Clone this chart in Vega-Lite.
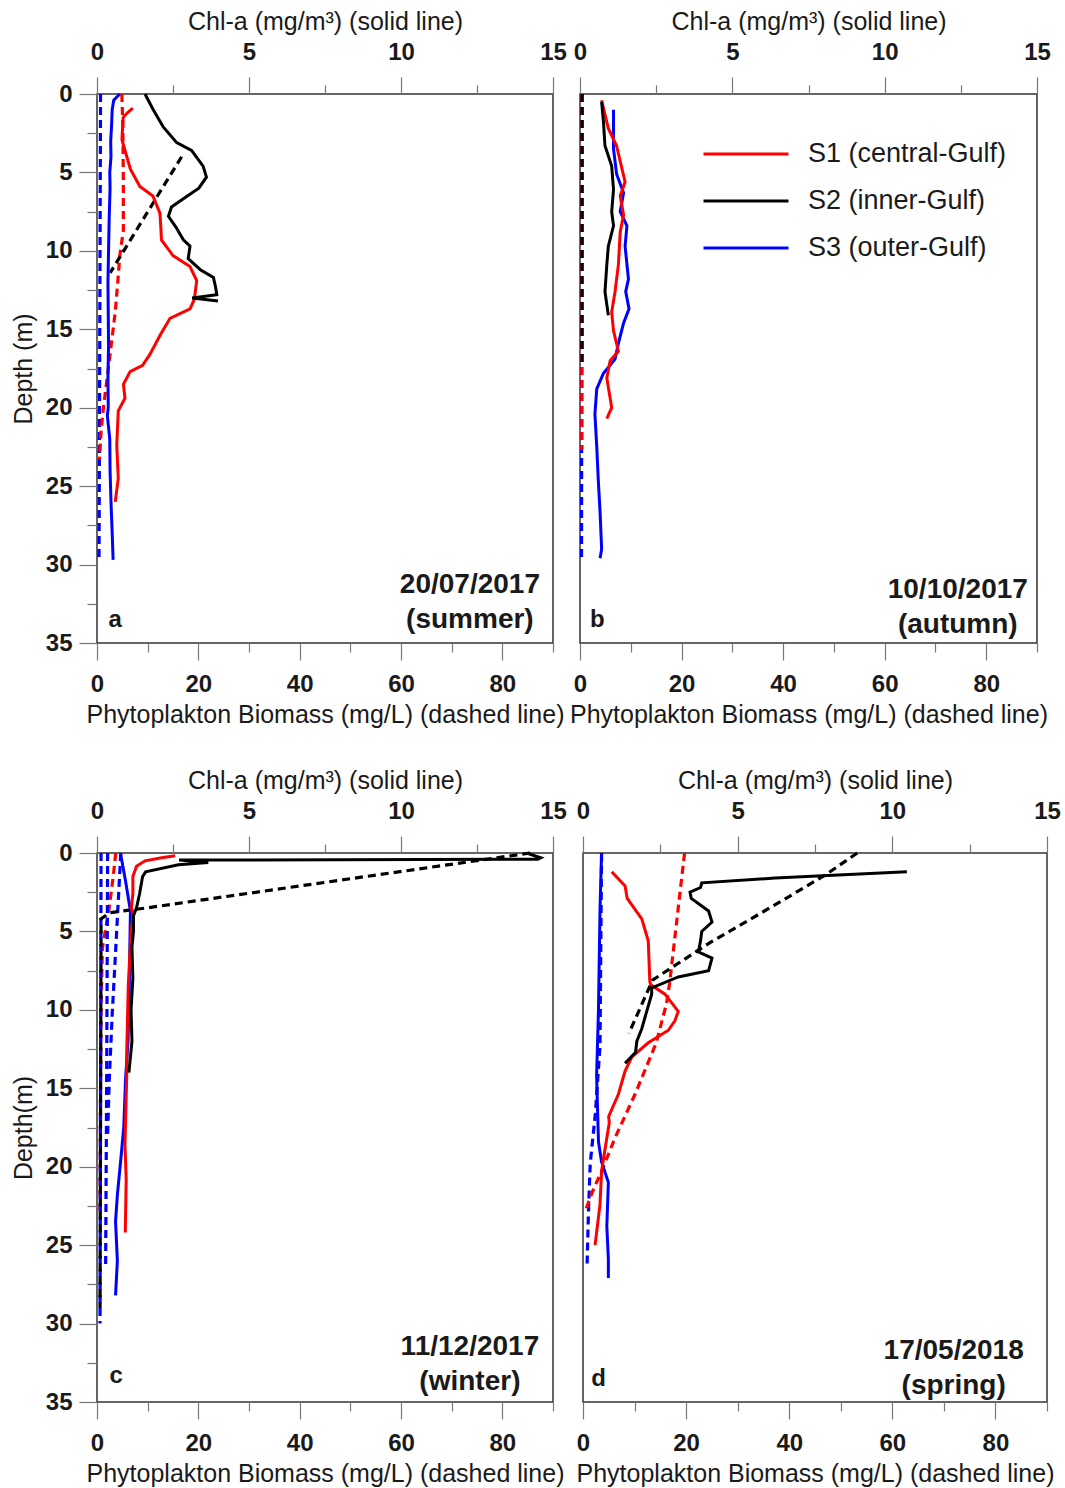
{
  "$schema": "https://vega.github.io/schema/vega-lite/v6.json",
  "background": "white",
  "autosize": {"type": "pad"},
  "padding": {"left": 10, "top": 8, "right": 0, "bottom": 0},
  "config": {
    "font": "Liberation Sans",
    "view": {"stroke": "#333", "strokeWidth": 1.5},
    "axis": {"domain": false, "grid": false, "labelFont": "Liberation Sans", "titleFont": "Liberation Sans", "labelFontSize": 24, "labelFontWeight": "bold", "labelColor": "#1a1a1a", "titleFontSize": 25, "titleFontWeight": "normal", "titleColor": "#1a1a1a", "tickColor": "#777", "tickWidth": 1.2}
  },
  "datasets": {
    "prof": [
      {"p":"a","v":"b","s":"S3","d":0,"x":0.7},{"p":"a","v":"b","s":"S3","d":10,"x":0.6},{"p":"a","v":"b","s":"S3","d":20,"x":0.5},{"p":"a","v":"b","s":"S3","d":29.7,"x":0.4},
      {"p":"a","v":"b","s":"S1","d":0,"x":4.9},{"p":"a","v":"b","s":"S1","d":2,"x":5.1},{"p":"a","v":"b","s":"S1","d":5.5,"x":5.2},{"p":"a","v":"b","s":"S1","d":8.7,"x":5.2},{"p":"a","v":"b","s":"S1","d":10.3,"x":4.5},{"p":"a","v":"b","s":"S1","d":12,"x":4.1},{"p":"a","v":"b","s":"S1","d":13.9,"x":3.6},{"p":"a","v":"b","s":"S1","d":16,"x":2.8},{"p":"a","v":"b","s":"S1","d":17.6,"x":2.2},{"p":"a","v":"b","s":"S1","d":19.9,"x":1.3},{"p":"a","v":"b","s":"S1","d":21.5,"x":0.8},{"p":"a","v":"b","s":"S1","d":23.3,"x":0.5},
      {"p":"a","v":"b","s":"S2","d":4.0,"x":16.7},{"p":"a","v":"b","s":"S2","d":11.4,"x":2.6},
      {"p":"a","v":"c","s":"S3","d":0,"x":0.75},{"p":"a","v":"c","s":"S3","d":0.4,"x":0.55},{"p":"a","v":"c","s":"S3","d":1,"x":0.5},{"p":"a","v":"c","s":"S3","d":2,"x":0.48},{"p":"a","v":"c","s":"S3","d":3,"x":0.45},{"p":"a","v":"c","s":"S3","d":4,"x":0.46},{"p":"a","v":"c","s":"S3","d":5,"x":0.42},{"p":"a","v":"c","s":"S3","d":6,"x":0.43},{"p":"a","v":"c","s":"S3","d":8,"x":0.4},{"p":"a","v":"c","s":"S3","d":10,"x":0.38},{"p":"a","v":"c","s":"S3","d":12,"x":0.36},{"p":"a","v":"c","s":"S3","d":14,"x":0.37},{"p":"a","v":"c","s":"S3","d":16,"x":0.38},{"p":"a","v":"c","s":"S3","d":18,"x":0.36},{"p":"a","v":"c","s":"S3","d":20,"x":0.37},{"p":"a","v":"c","s":"S3","d":20.5,"x":0.34},{"p":"a","v":"c","s":"S3","d":22,"x":0.42},{"p":"a","v":"c","s":"S3","d":24,"x":0.43},{"p":"a","v":"c","s":"S3","d":26,"x":0.46},{"p":"a","v":"c","s":"S3","d":28,"x":0.5},{"p":"a","v":"c","s":"S3","d":29.7,"x":0.53},
      {"p":"a","v":"c","s":"S1","d":0.9,"x":1.18},{"p":"a","v":"c","s":"S1","d":1.2,"x":1.0},{"p":"a","v":"c","s":"S1","d":1.5,"x":0.86},{"p":"a","v":"c","s":"S1","d":2.9,"x":0.82},{"p":"a","v":"c","s":"S1","d":4.0,"x":0.98},{"p":"a","v":"c","s":"S1","d":4.8,"x":1.1},{"p":"a","v":"c","s":"S1","d":5.9,"x":1.41},{"p":"a","v":"c","s":"S1","d":6.5,"x":1.84},{"p":"a","v":"c","s":"S1","d":7.6,"x":2.07},{"p":"a","v":"c","s":"S1","d":8.5,"x":2.1},{"p":"a","v":"c","s":"S1","d":9.3,"x":2.12},{"p":"a","v":"c","s":"S1","d":10.3,"x":2.5},{"p":"a","v":"c","s":"S1","d":11.0,"x":3.06},{"p":"a","v":"c","s":"S1","d":11.9,"x":3.28},{"p":"a","v":"c","s":"S1","d":13.1,"x":3.2},{"p":"a","v":"c","s":"S1","d":13.7,"x":3.06},{"p":"a","v":"c","s":"S1","d":14.3,"x":2.4},{"p":"a","v":"c","s":"S1","d":15.4,"x":2.07},{"p":"a","v":"c","s":"S1","d":16.6,"x":1.74},{"p":"a","v":"c","s":"S1","d":17.3,"x":1.5},{"p":"a","v":"c","s":"S1","d":17.7,"x":1.09},{"p":"a","v":"c","s":"S1","d":18.5,"x":0.87},{"p":"a","v":"c","s":"S1","d":19.4,"x":0.92},{"p":"a","v":"c","s":"S1","d":20.2,"x":0.7},{"p":"a","v":"c","s":"S1","d":22.4,"x":0.65},{"p":"a","v":"c","s":"S1","d":24.5,"x":0.7},{"p":"a","v":"c","s":"S1","d":26,"x":0.6},
      {"p":"a","v":"c","s":"S2","d":0,"x":1.58},{"p":"a","v":"c","s":"S2","d":1,"x":1.85},{"p":"a","v":"c","s":"S2","d":2.1,"x":2.18},{"p":"a","v":"c","s":"S2","d":3.1,"x":2.62},{"p":"a","v":"c","s":"S2","d":3.6,"x":3.11},{"p":"a","v":"c","s":"S2","d":4.6,"x":3.49},{"p":"a","v":"c","s":"S2","d":5.3,"x":3.6},{"p":"a","v":"c","s":"S2","d":6.0,"x":3.35},{"p":"a","v":"c","s":"S2","d":6.6,"x":2.9},{"p":"a","v":"c","s":"S2","d":7.2,"x":2.45},{"p":"a","v":"c","s":"S2","d":7.8,"x":2.35},{"p":"a","v":"c","s":"S2","d":8.5,"x":2.6},{"p":"a","v":"c","s":"S2","d":9.3,"x":2.84},{"p":"a","v":"c","s":"S2","d":9.7,"x":3.06},{"p":"a","v":"c","s":"S2","d":10.5,"x":3.0},{"p":"a","v":"c","s":"S2","d":11.2,"x":3.4},{"p":"a","v":"c","s":"S2","d":11.7,"x":3.83},{"p":"a","v":"c","s":"S2","d":12.3,"x":3.9},{"p":"a","v":"c","s":"S2","d":12.8,"x":3.94},{"p":"a","v":"c","s":"S2","d":13.0,"x":3.13},{"p":"a","v":"c","s":"S2","d":13.2,"x":3.98},

      {"p":"b","v":"b","s":"S3","d":0,"x":0.4},{"p":"b","v":"b","s":"S3","d":15,"x":0.35},{"p":"b","v":"b","s":"S3","d":29.7,"x":0.3},
      {"p":"b","v":"b","s":"S1","d":0,"x":0.4},{"p":"b","v":"b","s":"S1","d":22.7,"x":0.35},
      {"p":"b","v":"b","s":"S2","d":0,"x":0.4},{"p":"b","v":"b","s":"S2","d":17.2,"x":0.4},
      {"p":"b","v":"c","s":"S3","d":1.0,"x":1.1},{"p":"b","v":"c","s":"S3","d":3.5,"x":1.1},{"p":"b","v":"c","s":"S3","d":5.1,"x":1.2},{"p":"b","v":"c","s":"S3","d":6.3,"x":1.43},{"p":"b","v":"c","s":"S3","d":7.5,"x":1.32},{"p":"b","v":"c","s":"S3","d":8.4,"x":1.54},{"p":"b","v":"c","s":"S3","d":9.7,"x":1.48},{"p":"b","v":"c","s":"S3","d":11.8,"x":1.59},{"p":"b","v":"c","s":"S3","d":12.6,"x":1.5},{"p":"b","v":"c","s":"S3","d":13.7,"x":1.61},{"p":"b","v":"c","s":"S3","d":14.6,"x":1.43},{"p":"b","v":"c","s":"S3","d":15.9,"x":1.26},{"p":"b","v":"c","s":"S3","d":16.9,"x":1.15},{"p":"b","v":"c","s":"S3","d":17.8,"x":0.77},{"p":"b","v":"c","s":"S3","d":18.8,"x":0.55},{"p":"b","v":"c","s":"S3","d":20.4,"x":0.49},{"p":"b","v":"c","s":"S3","d":22.5,"x":0.55},{"p":"b","v":"c","s":"S3","d":24.6,"x":0.6},{"p":"b","v":"c","s":"S3","d":26.7,"x":0.66},{"p":"b","v":"c","s":"S3","d":29,"x":0.71},{"p":"b","v":"c","s":"S3","d":29.6,"x":0.66},
      {"p":"b","v":"c","s":"S1","d":0.4,"x":0.71},{"p":"b","v":"c","s":"S1","d":2.2,"x":0.93},{"p":"b","v":"c","s":"S1","d":3.3,"x":1.2},{"p":"b","v":"c","s":"S1","d":5.6,"x":1.48},{"p":"b","v":"c","s":"S1","d":6.5,"x":1.32},{"p":"b","v":"c","s":"S1","d":7.7,"x":1.43},{"p":"b","v":"c","s":"S1","d":8.8,"x":1.32},{"p":"b","v":"c","s":"S1","d":10.9,"x":1.26},{"p":"b","v":"c","s":"S1","d":12.6,"x":1.15},{"p":"b","v":"c","s":"S1","d":13.9,"x":1.04},{"p":"b","v":"c","s":"S1","d":15.1,"x":1.1},{"p":"b","v":"c","s":"S1","d":16.4,"x":1.26},{"p":"b","v":"c","s":"S1","d":17.0,"x":0.99},{"p":"b","v":"c","s":"S1","d":18.1,"x":0.88},{"p":"b","v":"c","s":"S1","d":19.4,"x":0.99},{"p":"b","v":"c","s":"S1","d":20,"x":1.04},{"p":"b","v":"c","s":"S1","d":20.7,"x":0.88},
      {"p":"b","v":"c","s":"S2","d":0.5,"x":0.71},{"p":"b","v":"c","s":"S2","d":1.8,"x":0.77},{"p":"b","v":"c","s":"S2","d":3.3,"x":0.82},{"p":"b","v":"c","s":"S2","d":4.6,"x":1.04},{"p":"b","v":"c","s":"S2","d":6.1,"x":1.1},{"p":"b","v":"c","s":"S2","d":7.5,"x":1.04},{"p":"b","v":"c","s":"S2","d":8.4,"x":1.1},{"p":"b","v":"c","s":"S2","d":9.7,"x":0.93},{"p":"b","v":"c","s":"S2","d":10.9,"x":0.88},{"p":"b","v":"c","s":"S2","d":12.6,"x":0.82},{"p":"b","v":"c","s":"S2","d":14.1,"x":0.93},

      {"p":"c","v":"b","s":"S1","d":0,"x":3.7},{"p":"c","v":"b","s":"S1","d":1.5,"x":3.2},{"p":"c","v":"b","s":"S1","d":3.5,"x":2.4},{"p":"c","v":"b","s":"S1","d":6.1,"x":1.05},{"p":"c","v":"b","s":"S1","d":10,"x":0.8},{"p":"c","v":"b","s":"S1","d":15,"x":0.7},{"p":"c","v":"b","s":"S1","d":22.9,"x":0.6},
      {"p":"c","v":"b","s":"S3","c":"A","d":0,"x":0.8},{"p":"c","v":"b","s":"S3","c":"A","d":15,"x":0.7},{"p":"c","v":"b","s":"S3","c":"A","d":30,"x":0.6},
      {"p":"c","v":"b","s":"S3","c":"B","d":0,"x":4.7},{"p":"c","v":"b","s":"S3","c":"B","d":6.1,"x":3.7},{"p":"c","v":"b","s":"S3","c":"B","d":10.3,"x":3.0},{"p":"c","v":"b","s":"S3","c":"B","d":14.6,"x":2.4},{"p":"c","v":"b","s":"S3","c":"B","d":18,"x":2.1},
      {"p":"c","v":"b","s":"S3","c":"C","d":0,"x":2.1},{"p":"c","v":"b","s":"S3","c":"C","d":15,"x":1.9},{"p":"c","v":"b","s":"S3","c":"C","d":26.5,"x":1.7},
      {"p":"c","v":"b","s":"S2","d":0,"x":85.5},{"p":"c","v":"b","s":"S2","d":3.5,"x":9.8},{"p":"c","v":"b","s":"S2","d":3.8,"x":2.6},{"p":"c","v":"b","s":"S2","d":4.2,"x":0.8},{"p":"c","v":"b","s":"S2","d":29,"x":0.6},
      {"p":"c","v":"c","s":"S3","d":0.1,"x":0.78},{"p":"c","v":"c","s":"S3","d":1.8,"x":0.94},{"p":"c","v":"c","s":"S3","d":3.7,"x":1.1},{"p":"c","v":"c","s":"S3","d":6,"x":1.08},{"p":"c","v":"c","s":"S3","d":9,"x":1.06},{"p":"c","v":"c","s":"S3","d":12,"x":1.02},{"p":"c","v":"c","s":"S3","d":14.4,"x":0.94},{"p":"c","v":"c","s":"S3","d":17.5,"x":0.88},{"p":"c","v":"c","s":"S3","d":19.6,"x":0.78},{"p":"c","v":"c","s":"S3","d":21.8,"x":0.67},{"p":"c","v":"c","s":"S3","d":23.5,"x":0.61},{"p":"c","v":"c","s":"S3","d":26,"x":0.67},{"p":"c","v":"c","s":"S3","d":28.2,"x":0.61},
      {"p":"c","v":"c","s":"S1","d":0.17,"x":2.57},{"p":"c","v":"c","s":"S1","d":0.3,"x":2.13},{"p":"c","v":"c","s":"S1","d":0.5,"x":1.58},{"p":"c","v":"c","s":"S1","d":0.85,"x":1.3},{"p":"c","v":"c","s":"S1","d":1.5,"x":1.18},{"p":"c","v":"c","s":"S1","d":2.6,"x":1.18},{"p":"c","v":"c","s":"S1","d":3.5,"x":1.13},{"p":"c","v":"c","s":"S1","d":3.9,"x":1.2},{"p":"c","v":"c","s":"S1","d":5,"x":1.12},{"p":"c","v":"c","s":"S1","d":8.4,"x":1.03},{"p":"c","v":"c","s":"S1","d":12.5,"x":0.98},{"p":"c","v":"c","s":"S1","d":14,"x":0.98},{"p":"c","v":"c","s":"S1","d":18.6,"x":0.92},{"p":"c","v":"c","s":"S1","d":20.8,"x":0.96},{"p":"c","v":"c","s":"S1","d":24.2,"x":0.93},
      {"p":"c","v":"c","s":"S2","d":0.05,"x":14.2},{"p":"c","v":"c","s":"S2","d":0.3,"x":14.6},{"p":"c","v":"c","s":"S2","d":0.4,"x":14.5},{"p":"c","v":"c","s":"S2","d":0.45,"x":2.7},{"p":"c","v":"c","s":"S2","d":0.6,"x":3.66},{"p":"c","v":"c","s":"S2","d":0.75,"x":2.68},{"p":"c","v":"c","s":"S2","d":1.2,"x":1.6},{"p":"c","v":"c","s":"S2","d":1.5,"x":1.5},{"p":"c","v":"c","s":"S2","d":2.6,"x":1.4},{"p":"c","v":"c","s":"S2","d":3.5,"x":1.3},{"p":"c","v":"c","s":"S2","d":4.0,"x":1.2},{"p":"c","v":"c","s":"S2","d":5,"x":1.2},{"p":"c","v":"c","s":"S2","d":6,"x":1.15},{"p":"c","v":"c","s":"S2","d":8,"x":1.18},{"p":"c","v":"c","s":"S2","d":10,"x":1.12},{"p":"c","v":"c","s":"S2","d":12,"x":1.15},{"p":"c","v":"c","s":"S2","d":14,"x":1.05},

      {"p":"d","v":"b","s":"S3","d":0,"x":3.6},{"p":"d","v":"b","s":"S3","d":12.3,"x":3.3},{"p":"d","v":"b","s":"S3","d":16.6,"x":2.4},{"p":"d","v":"b","s":"S3","d":19.8,"x":1.4},{"p":"d","v":"b","s":"S3","d":23,"x":1.05},{"p":"d","v":"b","s":"S3","d":26.2,"x":0.8},
      {"p":"d","v":"b","s":"S1","d":0,"x":19.7},{"p":"d","v":"b","s":"S1","d":8.3,"x":16.8},{"p":"d","v":"b","s":"S1","d":9.6,"x":16.2},{"p":"d","v":"b","s":"S1","d":12.1,"x":14.2},{"p":"d","v":"b","s":"S1","d":15.3,"x":10.2},{"p":"d","v":"b","s":"S1","d":18.1,"x":6.3},{"p":"d","v":"b","s":"S1","d":20.2,"x":3.7},{"p":"d","v":"b","s":"S1","d":21.7,"x":1.7},{"p":"d","v":"b","s":"S1","d":22.7,"x":0.6},
      {"p":"d","v":"b","s":"S2","d":0,"x":53.2},{"p":"d","v":"b","s":"S2","d":1.4,"x":47},{"p":"d","v":"b","s":"S2","d":3.2,"x":37.8},{"p":"d","v":"b","s":"S2","d":5.7,"x":24.7},{"p":"d","v":"b","s":"S2","d":8.1,"x":13.5},{"p":"d","v":"b","s":"S2","d":11.5,"x":8.9},
      {"p":"d","v":"c","s":"S3","d":0,"x":0.6},{"p":"d","v":"c","s":"S3","d":3.6,"x":0.55},{"p":"d","v":"c","s":"S3","d":10,"x":0.5},{"p":"d","v":"c","s":"S3","d":14.2,"x":0.44},{"p":"d","v":"c","s":"S3","d":18.4,"x":0.5},{"p":"d","v":"c","s":"S3","d":19.7,"x":0.6},{"p":"d","v":"c","s":"S3","d":21,"x":0.82},{"p":"d","v":"c","s":"S3","d":23.8,"x":0.77},{"p":"d","v":"c","s":"S3","d":25.9,"x":0.82},{"p":"d","v":"c","s":"S3","d":27.1,"x":0.82},
      {"p":"d","v":"c","s":"S1","d":1.2,"x":0.93},{"p":"d","v":"c","s":"S1","d":2.1,"x":1.36},{"p":"d","v":"c","s":"S1","d":2.9,"x":1.43},{"p":"d","v":"c","s":"S1","d":4.2,"x":1.9},{"p":"d","v":"c","s":"S1","d":5.6,"x":2.11},{"p":"d","v":"c","s":"S1","d":8.2,"x":2.16},{"p":"d","v":"c","s":"S1","d":8.4,"x":2.19},{"p":"d","v":"c","s":"S1","d":9.0,"x":2.65},{"p":"d","v":"c","s":"S1","d":10.1,"x":3.08},{"p":"d","v":"c","s":"S1","d":10.7,"x":2.97},{"p":"d","v":"c","s":"S1","d":11.3,"x":2.76},{"p":"d","v":"c","s":"S1","d":12.1,"x":2.11},{"p":"d","v":"c","s":"S1","d":13,"x":1.58},{"p":"d","v":"c","s":"S1","d":13.9,"x":1.36},{"p":"d","v":"c","s":"S1","d":15.4,"x":1.14},{"p":"d","v":"c","s":"S1","d":16.8,"x":0.83},{"p":"d","v":"c","s":"S1","d":17.2,"x":0.85},{"p":"d","v":"c","s":"S1","d":18.9,"x":0.71},{"p":"d","v":"c","s":"S1","d":20.3,"x":0.6},{"p":"d","v":"c","s":"S1","d":22.4,"x":0.55},{"p":"d","v":"c","s":"S1","d":25,"x":0.39},
      {"p":"d","v":"c","s":"S2","d":1.2,"x":10.47},{"p":"d","v":"c","s":"S2","d":1.6,"x":6.21},{"p":"d","v":"c","s":"S2","d":1.9,"x":3.84},{"p":"d","v":"c","s":"S2","d":2.2,"x":3.8},{"p":"d","v":"c","s":"S2","d":2.5,"x":3.46},{"p":"d","v":"c","s":"S2","d":2.9,"x":3.5},{"p":"d","v":"c","s":"S2","d":3.7,"x":4.06},{"p":"d","v":"c","s":"S2","d":4.4,"x":4.17},{"p":"d","v":"c","s":"S2","d":5.0,"x":3.84},{"p":"d","v":"c","s":"S2","d":5.6,"x":3.8},{"p":"d","v":"c","s":"S2","d":6.3,"x":3.73},{"p":"d","v":"c","s":"S2","d":6.7,"x":4.17},{"p":"d","v":"c","s":"S2","d":7.5,"x":4.06},{"p":"d","v":"c","s":"S2","d":7.9,"x":3.08},{"p":"d","v":"c","s":"S2","d":8.6,"x":2.22},{"p":"d","v":"c","s":"S2","d":9.0,"x":2.22},{"p":"d","v":"c","s":"S2","d":10.1,"x":2.06},{"p":"d","v":"c","s":"S2","d":11.2,"x":1.9},{"p":"d","v":"c","s":"S2","d":12.0,"x":1.74},{"p":"d","v":"c","s":"S2","d":12.7,"x":1.7},{"p":"d","v":"c","s":"S2","d":13.4,"x":1.36}
    ]
  },
  "spacing": 39,
  "resolve": {"scale": {"color": "independent"}},
  "vconcat": [
    {
      "spacing": 27,
      "bounds": "flush",
      "resolve": {"scale": {"color": "independent"}},
      "hconcat": [
        {
          "width": 456, "height": 549,
          "resolve": {"scale": {"x": "independent"}, "axis": {"x": "independent"}},
          "layer": [
            {
              "data": {"name": "prof"},
              "transform": [{"filter": "datum.p === 'a' && datum.v === 'b'"}],
              "mark": {"type": "line", "strokeDash": [8, 5], "strokeWidth": 3.2},
              "encoding": {
                "x": {"field": "x", "type": "quantitative", "scale": {"domain": [0, 90], "nice": false, "zero": false}, "axis": {"orient": "bottom", "values": [0,10,20,30,40,50,60,70,80,90], "labelExpr": "datum.value % 20 === 0 ? datum.label : ''", "tickSize": {"condition": {"test": "datum.value % 20 === 0", "value": 17}, "value": 9}, "labelPadding": 12, "labelFlush": false, "labelOverlap": false, "title": "Phytoplakton Biomass (mg/L) (dashed line)", "titlePadding": 6}},
                "y": {"field": "d", "type": "quantitative", "scale": {"domain": [0, 35], "reverse": true, "nice": false}, "axis": {"values": [0,2.5,5,7.5,10,12.5,15,17.5,20,22.5,25,27.5,30,32.5,35], "labelExpr": "datum.value % 5 === 0 ? datum.label : ''", "tickSize": {"condition": {"test": "datum.value % 5 === 0", "value": 18}, "value": 10}, "labelPadding": 7, "labelOverlap": false, "title": "Depth (m)", "titlePadding": 9}},
                "color": {"field": "s", "type": "nominal", "scale": {"domain": ["S1", "S2", "S3"], "range": ["#ff0000", "#000000", "#0000ff"]}, "legend": null},
                "order": {"field": "d", "type": "quantitative"}
              }
            },
            {
              "data": {"name": "prof"},
              "transform": [{"filter": "datum.p === 'a' && datum.v === 'c'"}],
              "mark": {"type": "line", "strokeWidth": 3},
              "encoding": {
                "x": {"field": "x", "type": "quantitative", "scale": {"domain": [0, 15], "nice": false, "zero": false}, "axis": {"orient": "top", "values": [0,2.5,5,7.5,10,12.5,15], "labelExpr": "datum.value % 5 === 0 ? datum.label : ''", "tickSize": {"condition": {"test": "datum.value % 5 === 0", "value": 17}, "value": 9}, "labelPadding": 13, "labelFlush": false, "labelOverlap": false, "title": "Chl-a (mg/m³) (solid line)", "titlePadding": 6}},
                "y": {"field": "d", "type": "quantitative", "scale": {"domain": [0, 35], "reverse": true, "nice": false}, "axis": {"values": [0,2.5,5,7.5,10,12.5,15,17.5,20,22.5,25,27.5,30,32.5,35], "labelExpr": "datum.value % 5 === 0 ? datum.label : ''", "tickSize": {"condition": {"test": "datum.value % 5 === 0", "value": 18}, "value": 10}, "labelPadding": 7, "labelOverlap": false, "title": "Depth (m)", "titlePadding": 9}},
                "color": {"field": "s", "type": "nominal", "scale": {"domain": ["S1", "S2", "S3"], "range": ["#ff0000", "#000000", "#0000ff"]}, "legend": null},
                "order": {"field": "d", "type": "quantitative"}
              }
            },
            {
              "data": {"values": [{}]},
              "mark": {"type": "text", "text": "20/07/2017\n(summer)", "lineBreak": "\n", "align": "center", "baseline": "alphabetic", "fontSize": 28, "fontWeight": "bold", "lineHeight": 35, "font": "Liberation Sans", "color": "#1a1a1a"},
              "encoding": {
                "x": {"datum": 73.6, "type": "quantitative", "scale": {"domain": [0, 90]}, "axis": null},
                "y": {"datum": 31.8, "type": "quantitative", "scale": {"domain": [0, 35], "reverse": true, "nice": false}, "axis": {"values": [0,2.5,5,7.5,10,12.5,15,17.5,20,22.5,25,27.5,30,32.5,35], "labelExpr": "datum.value % 5 === 0 ? datum.label : ''", "tickSize": {"condition": {"test": "datum.value % 5 === 0", "value": 18}, "value": 10}, "labelPadding": 7, "labelOverlap": false, "title": "Depth (m)", "titlePadding": 9}}
              }
            },
            {
              "data": {"values": [{}]},
              "mark": {"type": "text", "text": "a", "align": "center", "baseline": "alphabetic", "fontSize": 24, "fontWeight": "bold", "font": "Liberation Sans", "color": "#1a1a1a"},
              "encoding": {
                "x": {"datum": 3.6, "type": "quantitative", "scale": {"domain": [0, 90]}, "axis": null},
                "y": {"datum": 34.0, "type": "quantitative", "scale": {"domain": [0, 35], "reverse": true, "nice": false}, "axis": {"values": [0,2.5,5,7.5,10,12.5,15,17.5,20,22.5,25,27.5,30,32.5,35], "labelExpr": "datum.value % 5 === 0 ? datum.label : ''", "tickSize": {"condition": {"test": "datum.value % 5 === 0", "value": 18}, "value": 10}, "labelPadding": 7, "labelOverlap": false, "title": "Depth (m)", "titlePadding": 9}}
              }
            }
          ]
        },
        {
          "width": 457, "height": 549,
          "resolve": {"scale": {"x": "independent"}, "axis": {"x": "independent"}},
          "layer": [
            {
              "data": {"name": "prof"},
              "transform": [{"filter": "datum.p === 'b' && datum.v === 'b'"}],
              "mark": {"type": "line", "strokeDash": [8, 5], "strokeWidth": 3.2},
              "encoding": {
                "x": {"field": "x", "type": "quantitative", "scale": {"domain": [0, 90], "nice": false, "zero": false}, "axis": {"orient": "bottom", "values": [0,10,20,30,40,50,60,70,80,90], "labelExpr": "datum.value % 20 === 0 ? datum.label : ''", "tickSize": {"condition": {"test": "datum.value % 20 === 0", "value": 17}, "value": 9}, "labelPadding": 12, "labelFlush": false, "labelOverlap": false, "title": "Phytoplakton Biomass (mg/L) (dashed line)", "titlePadding": 6}},
                "y": {"field": "d", "type": "quantitative", "scale": {"domain": [0, 35], "reverse": true, "nice": false}, "axis": null},
                "color": {"field": "s", "type": "nominal", "scale": {"domain": ["S1", "S2", "S3"], "range": ["#ff0000", "#000000", "#0000ff"]}, "legend": {"orient": "none", "legendX": 122, "legendY": 42, "title": null, "padding": 0, "symbolType": "stroke", "symbolSize": 7225, "symbolStrokeWidth": 3, "clipHeight": 36, "rowPadding": 11, "labelFont": "Liberation Sans", "labelFontSize": 27, "labelColor": "#1a1a1a", "labelOffset": 18, "labelLimit": 400, "labelExpr": "datum.label === 'S1' ? 'S1 (central-Gulf)' : datum.label === 'S2' ? 'S2 (inner-Gulf)' : 'S3 (outer-Gulf)'"}},
                "order": {"field": "d", "type": "quantitative"}
              }
            },
            {
              "data": {"name": "prof"},
              "transform": [{"filter": "datum.p === 'b' && datum.v === 'c'"}],
              "mark": {"type": "line", "strokeWidth": 3},
              "encoding": {
                "x": {"field": "x", "type": "quantitative", "scale": {"domain": [0, 15], "nice": false, "zero": false}, "axis": {"orient": "top", "values": [0,2.5,5,7.5,10,12.5,15], "labelExpr": "datum.value % 5 === 0 ? datum.label : ''", "tickSize": {"condition": {"test": "datum.value % 5 === 0", "value": 17}, "value": 9}, "labelPadding": 13, "labelFlush": false, "labelOverlap": false, "title": "Chl-a (mg/m³) (solid line)", "titlePadding": 6}},
                "y": {"field": "d", "type": "quantitative", "scale": {"domain": [0, 35], "reverse": true, "nice": false}, "axis": null},
                "color": {"field": "s", "type": "nominal", "scale": {"domain": ["S1", "S2", "S3"], "range": ["#ff0000", "#000000", "#0000ff"]}, "legend": {"orient": "none", "legendX": 122, "legendY": 42, "title": null, "padding": 0, "symbolType": "stroke", "symbolSize": 7225, "symbolStrokeWidth": 3, "clipHeight": 36, "rowPadding": 11, "labelFont": "Liberation Sans", "labelFontSize": 27, "labelColor": "#1a1a1a", "labelOffset": 18, "labelLimit": 400, "labelExpr": "datum.label === 'S1' ? 'S1 (central-Gulf)' : datum.label === 'S2' ? 'S2 (inner-Gulf)' : 'S3 (outer-Gulf)'"}},
                "order": {"field": "d", "type": "quantitative"}
              }
            },
            {
              "data": {"values": [{}]},
              "mark": {"type": "text", "text": "10/10/2017\n(autumn)", "lineBreak": "\n", "align": "center", "baseline": "alphabetic", "fontSize": 28, "fontWeight": "bold", "lineHeight": 35, "font": "Liberation Sans", "color": "#1a1a1a"},
              "encoding": {
                "x": {"datum": 74.4, "type": "quantitative", "scale": {"domain": [0, 90]}, "axis": null},
                "y": {"datum": 32.1, "type": "quantitative", "scale": {"domain": [0, 35], "reverse": true, "nice": false}, "axis": null}
              }
            },
            {
              "data": {"values": [{}]},
              "mark": {"type": "text", "text": "b", "align": "center", "baseline": "alphabetic", "fontSize": 24, "fontWeight": "bold", "font": "Liberation Sans", "color": "#1a1a1a"},
              "encoding": {
                "x": {"datum": 3.4, "type": "quantitative", "scale": {"domain": [0, 90]}, "axis": null},
                "y": {"datum": 34.0, "type": "quantitative", "scale": {"domain": [0, 35], "reverse": true, "nice": false}, "axis": null}
              }
            }
          ]
        }
      ]
    },
    {
      "spacing": 30,
      "bounds": "flush",
      "resolve": {"scale": {"color": "independent"}},
      "hconcat": [
        {
          "width": 456, "height": 549,
          "resolve": {"scale": {"x": "independent"}, "axis": {"x": "independent"}},
          "layer": [
            {
              "data": {"name": "prof"},
              "transform": [{"filter": "datum.p === 'c' && datum.v === 'b'"}],
              "mark": {"type": "line", "strokeDash": [8, 5], "strokeWidth": 3.2},
              "encoding": {
                "x": {"field": "x", "type": "quantitative", "scale": {"domain": [0, 90], "nice": false, "zero": false}, "axis": {"orient": "bottom", "values": [0,10,20,30,40,50,60,70,80,90], "labelExpr": "datum.value % 20 === 0 ? datum.label : ''", "tickSize": {"condition": {"test": "datum.value % 20 === 0", "value": 17}, "value": 9}, "labelPadding": 12, "labelFlush": false, "labelOverlap": false, "title": "Phytoplakton Biomass (mg/L) (dashed line)", "titlePadding": 6}},
                "y": {"field": "d", "type": "quantitative", "scale": {"domain": [0, 35], "reverse": true, "nice": false}, "axis": {"values": [0,2.5,5,7.5,10,12.5,15,17.5,20,22.5,25,27.5,30,32.5,35], "labelExpr": "datum.value % 5 === 0 ? datum.label : ''", "tickSize": {"condition": {"test": "datum.value % 5 === 0", "value": 18}, "value": 10}, "labelPadding": 7, "labelOverlap": false, "title": "Depth(m)", "titlePadding": 9}},
                "color": {"field": "s", "type": "nominal", "scale": {"domain": ["S1", "S2", "S3"], "range": ["#ff0000", "#000000", "#0000ff"]}, "legend": null},
                "detail": {"field": "c", "type": "nominal"},
                "order": {"field": "d", "type": "quantitative"}
              }
            },
            {
              "data": {"name": "prof"},
              "transform": [{"filter": "datum.p === 'c' && datum.v === 'c'"}],
              "mark": {"type": "line", "strokeWidth": 3},
              "encoding": {
                "x": {"field": "x", "type": "quantitative", "scale": {"domain": [0, 15], "nice": false, "zero": false}, "axis": {"orient": "top", "values": [0,2.5,5,7.5,10,12.5,15], "labelExpr": "datum.value % 5 === 0 ? datum.label : ''", "tickSize": {"condition": {"test": "datum.value % 5 === 0", "value": 17}, "value": 9}, "labelPadding": 13, "labelFlush": false, "labelOverlap": false, "title": "Chl-a (mg/m³) (solid line)", "titlePadding": 6}},
                "y": {"field": "d", "type": "quantitative", "scale": {"domain": [0, 35], "reverse": true, "nice": false}, "axis": {"values": [0,2.5,5,7.5,10,12.5,15,17.5,20,22.5,25,27.5,30,32.5,35], "labelExpr": "datum.value % 5 === 0 ? datum.label : ''", "tickSize": {"condition": {"test": "datum.value % 5 === 0", "value": 18}, "value": 10}, "labelPadding": 7, "labelOverlap": false, "title": "Depth(m)", "titlePadding": 9}},
                "color": {"field": "s", "type": "nominal", "scale": {"domain": ["S1", "S2", "S3"], "range": ["#ff0000", "#000000", "#0000ff"]}, "legend": null},
                "order": {"field": "d", "type": "quantitative"}
              }
            },
            {
              "data": {"values": [{}]},
              "mark": {"type": "text", "text": "11/12/2017\n(winter)", "lineBreak": "\n", "align": "center", "baseline": "alphabetic", "fontSize": 28, "fontWeight": "bold", "lineHeight": 35, "font": "Liberation Sans", "color": "#1a1a1a"},
              "encoding": {
                "x": {"datum": 73.6, "type": "quantitative", "scale": {"domain": [0, 90]}, "axis": null},
                "y": {"datum": 32.0, "type": "quantitative", "scale": {"domain": [0, 35], "reverse": true, "nice": false}, "axis": {"values": [0,2.5,5,7.5,10,12.5,15,17.5,20,22.5,25,27.5,30,32.5,35], "labelExpr": "datum.value % 5 === 0 ? datum.label : ''", "tickSize": {"condition": {"test": "datum.value % 5 === 0", "value": 18}, "value": 10}, "labelPadding": 7, "labelOverlap": false, "title": "Depth(m)", "titlePadding": 9}}
              }
            },
            {
              "data": {"values": [{}]},
              "mark": {"type": "text", "text": "c", "align": "center", "baseline": "alphabetic", "fontSize": 24, "fontWeight": "bold", "font": "Liberation Sans", "color": "#1a1a1a"},
              "encoding": {
                "x": {"datum": 3.8, "type": "quantitative", "scale": {"domain": [0, 90]}, "axis": null},
                "y": {"datum": 33.8, "type": "quantitative", "scale": {"domain": [0, 35], "reverse": true, "nice": false}, "axis": {"values": [0,2.5,5,7.5,10,12.5,15,17.5,20,22.5,25,27.5,30,32.5,35], "labelExpr": "datum.value % 5 === 0 ? datum.label : ''", "tickSize": {"condition": {"test": "datum.value % 5 === 0", "value": 18}, "value": 10}, "labelPadding": 7, "labelOverlap": false, "title": "Depth(m)", "titlePadding": 9}}
              }
            }
          ]
        },
        {
          "width": 464, "height": 549,
          "resolve": {"scale": {"x": "independent"}, "axis": {"x": "independent"}},
          "layer": [
            {
              "data": {"name": "prof"},
              "transform": [{"filter": "datum.p === 'd' && datum.v === 'b'"}],
              "mark": {"type": "line", "strokeDash": [8, 5], "strokeWidth": 3.2},
              "encoding": {
                "x": {"field": "x", "type": "quantitative", "scale": {"domain": [0, 90], "nice": false, "zero": false}, "axis": {"orient": "bottom", "values": [0,10,20,30,40,50,60,70,80,90], "labelExpr": "datum.value % 20 === 0 ? datum.label : ''", "tickSize": {"condition": {"test": "datum.value % 20 === 0", "value": 17}, "value": 9}, "labelPadding": 12, "labelFlush": false, "labelOverlap": false, "title": "Phytoplakton Biomass (mg/L) (dashed line)", "titlePadding": 6}},
                "y": {"field": "d", "type": "quantitative", "scale": {"domain": [0, 35], "reverse": true, "nice": false}, "axis": null},
                "color": {"field": "s", "type": "nominal", "scale": {"domain": ["S1", "S2", "S3"], "range": ["#ff0000", "#000000", "#0000ff"]}, "legend": null},
                "order": {"field": "d", "type": "quantitative"}
              }
            },
            {
              "data": {"name": "prof"},
              "transform": [{"filter": "datum.p === 'd' && datum.v === 'c'"}],
              "mark": {"type": "line", "strokeWidth": 3},
              "encoding": {
                "x": {"field": "x", "type": "quantitative", "scale": {"domain": [0, 15], "nice": false, "zero": false}, "axis": {"orient": "top", "values": [0,2.5,5,7.5,10,12.5,15], "labelExpr": "datum.value % 5 === 0 ? datum.label : ''", "tickSize": {"condition": {"test": "datum.value % 5 === 0", "value": 17}, "value": 9}, "labelPadding": 13, "labelFlush": false, "labelOverlap": false, "title": "Chl-a (mg/m³) (solid line)", "titlePadding": 6}},
                "y": {"field": "d", "type": "quantitative", "scale": {"domain": [0, 35], "reverse": true, "nice": false}, "axis": null},
                "color": {"field": "s", "type": "nominal", "scale": {"domain": ["S1", "S2", "S3"], "range": ["#ff0000", "#000000", "#0000ff"]}, "legend": null},
                "order": {"field": "d", "type": "quantitative"}
              }
            },
            {
              "data": {"values": [{}]},
              "mark": {"type": "text", "text": "17/05/2018\n(spring)", "lineBreak": "\n", "align": "center", "baseline": "alphabetic", "fontSize": 28, "fontWeight": "bold", "lineHeight": 35, "font": "Liberation Sans", "color": "#1a1a1a"},
              "encoding": {
                "x": {"datum": 71.9, "type": "quantitative", "scale": {"domain": [0, 90]}, "axis": null},
                "y": {"datum": 32.25, "type": "quantitative", "scale": {"domain": [0, 35], "reverse": true, "nice": false}, "axis": null}
              }
            },
            {
              "data": {"values": [{}]},
              "mark": {"type": "text", "text": "d", "align": "center", "baseline": "alphabetic", "fontSize": 24, "fontWeight": "bold", "font": "Liberation Sans", "color": "#1a1a1a"},
              "encoding": {
                "x": {"datum": 3.0, "type": "quantitative", "scale": {"domain": [0, 90]}, "axis": null},
                "y": {"datum": 34.0, "type": "quantitative", "scale": {"domain": [0, 35], "reverse": true, "nice": false}, "axis": null}
              }
            }
          ]
        }
      ]
    }
  ]
}
